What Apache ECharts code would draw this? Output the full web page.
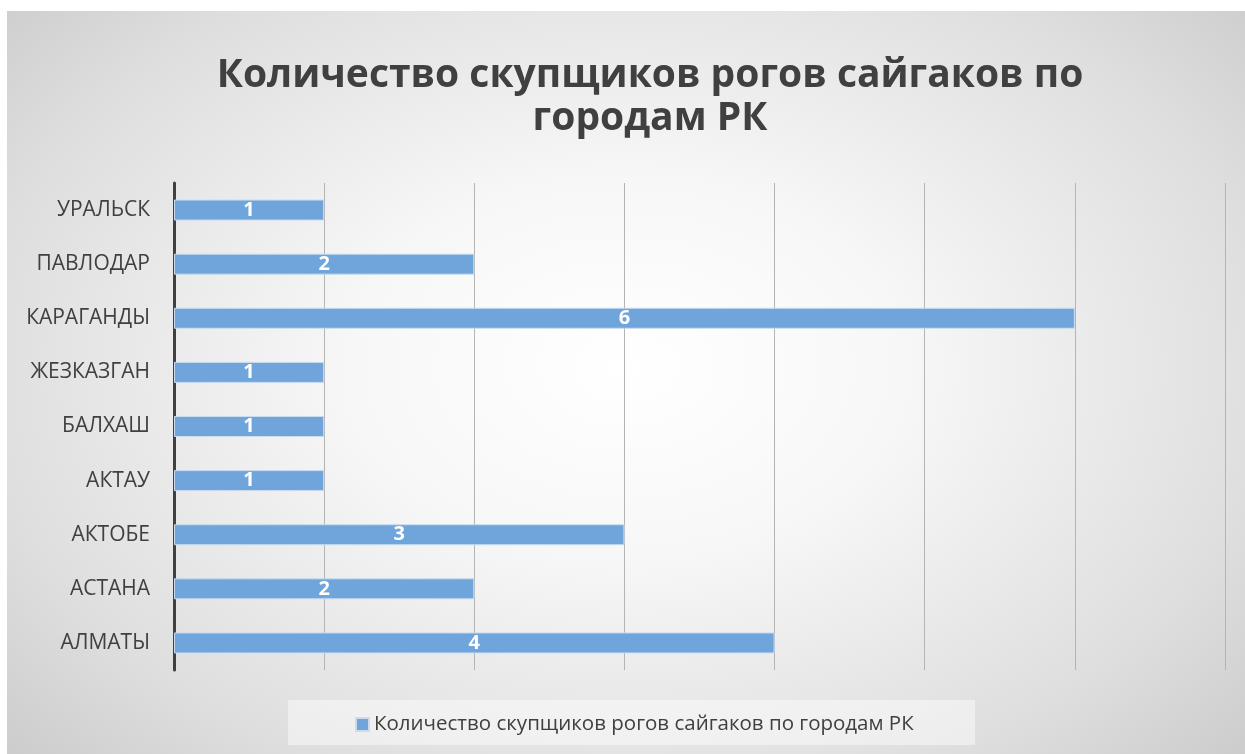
<!DOCTYPE html>
<html>
<head>
<meta charset="utf-8">
<script src="https://cdn.jsdelivr.net/npm/echarts@6/dist/echarts.min.js"></script>
<style>
html,body{margin:0;padding:0;background:#fff;width:1245px;height:754px;overflow:hidden;}
#bg{position:absolute;left:7px;top:11px;width:1238px;height:743px;
 background:radial-gradient(ellipse 75% 85% at 50% 48%, #ffffff 0%, #f7f7f7 30%, #dedede 70%, #c4c4c4 100%);}
#chart{position:absolute;left:0;top:0;width:1245px;height:754px;}
</style>
</head>
<body>
<div id="bg"></div>
<div id="chart"></div>
<script>
const titleText = 'Количество скупщиков рогов сайгаков по\nгородам РК';
const seriesName = 'Количество скупщиков рогов сайгаков по городам РК';
const categories = ['АЛМАТЫ','АСТАНА','АКТОБЕ','АКТАУ','БАЛХАШ','ЖЕЗКАЗГАН','КАРАГАНДЫ','ПАВЛОДАР','УРАЛЬСК'];
const values = [4, 2, 3, 1, 1, 1, 6, 2, 1];
const xMin = 0, xMax = 7, xStep = 1;

const chart = echarts.init(document.getElementById('chart'), null, {renderer:'canvas'});
const font = '"Open Sans", sans-serif';
chart.setOption({
  backgroundColor: 'transparent',
  textStyle: {fontFamily: font},
  title: {
    text: titleText,
    left: 645, top: 49, textAlign: 'center',
    textStyle: {fontFamily: font, fontSize: 39, fontWeight: 'bold', color: '#404040', lineHeight: 43}
  },
  graphic: [{
    type: 'rect', left: 288, top: 700, shape: {width: 687, height: 45},
    style: {fill: 'rgba(255,255,255,0.45)'}, z: -1
  }],
  legend: {
    data: [seriesName],
    left: 350, top: 709,
    itemWidth: 13, itemHeight: 13, itemGap: 10,
    icon: 'rect',
    textStyle: {fontFamily: font, fontSize: 20.5, color: '#404040'}
  },
  grid: {left: 174, right: 20, top: 183, bottom: 84, containLabel: false},
  xAxis: {
    type: 'value', min: xMin, max: xMax, interval: xStep,
    axisLabel: {show: false}, axisTick: {show: false}, axisLine: {show: false},
    splitLine: {show: true, lineStyle: {color: '#b4b4b4', width: 1}}
  },
  yAxis: {
    type: 'category', data: categories,
    axisLine: {show: true, lineStyle: {color: '#404040', width: 3}},
    axisTick: {show: false},
    axisLabel: {fontFamily: font, fontSize: 21, color: '#404040', margin: 24}
  },
  series: [{
    name: seriesName, type: 'bar', data: values, barWidth: 21,
    itemStyle: {color: '#6fa5da', borderColor: '#c9dcf0', borderWidth: 1},
    label: {show: true, position: 'inside', color: '#ffffff', fontWeight: 'bold', fontSize: 20, fontFamily: font}
  }]
});
</script>
</body>
</html>
